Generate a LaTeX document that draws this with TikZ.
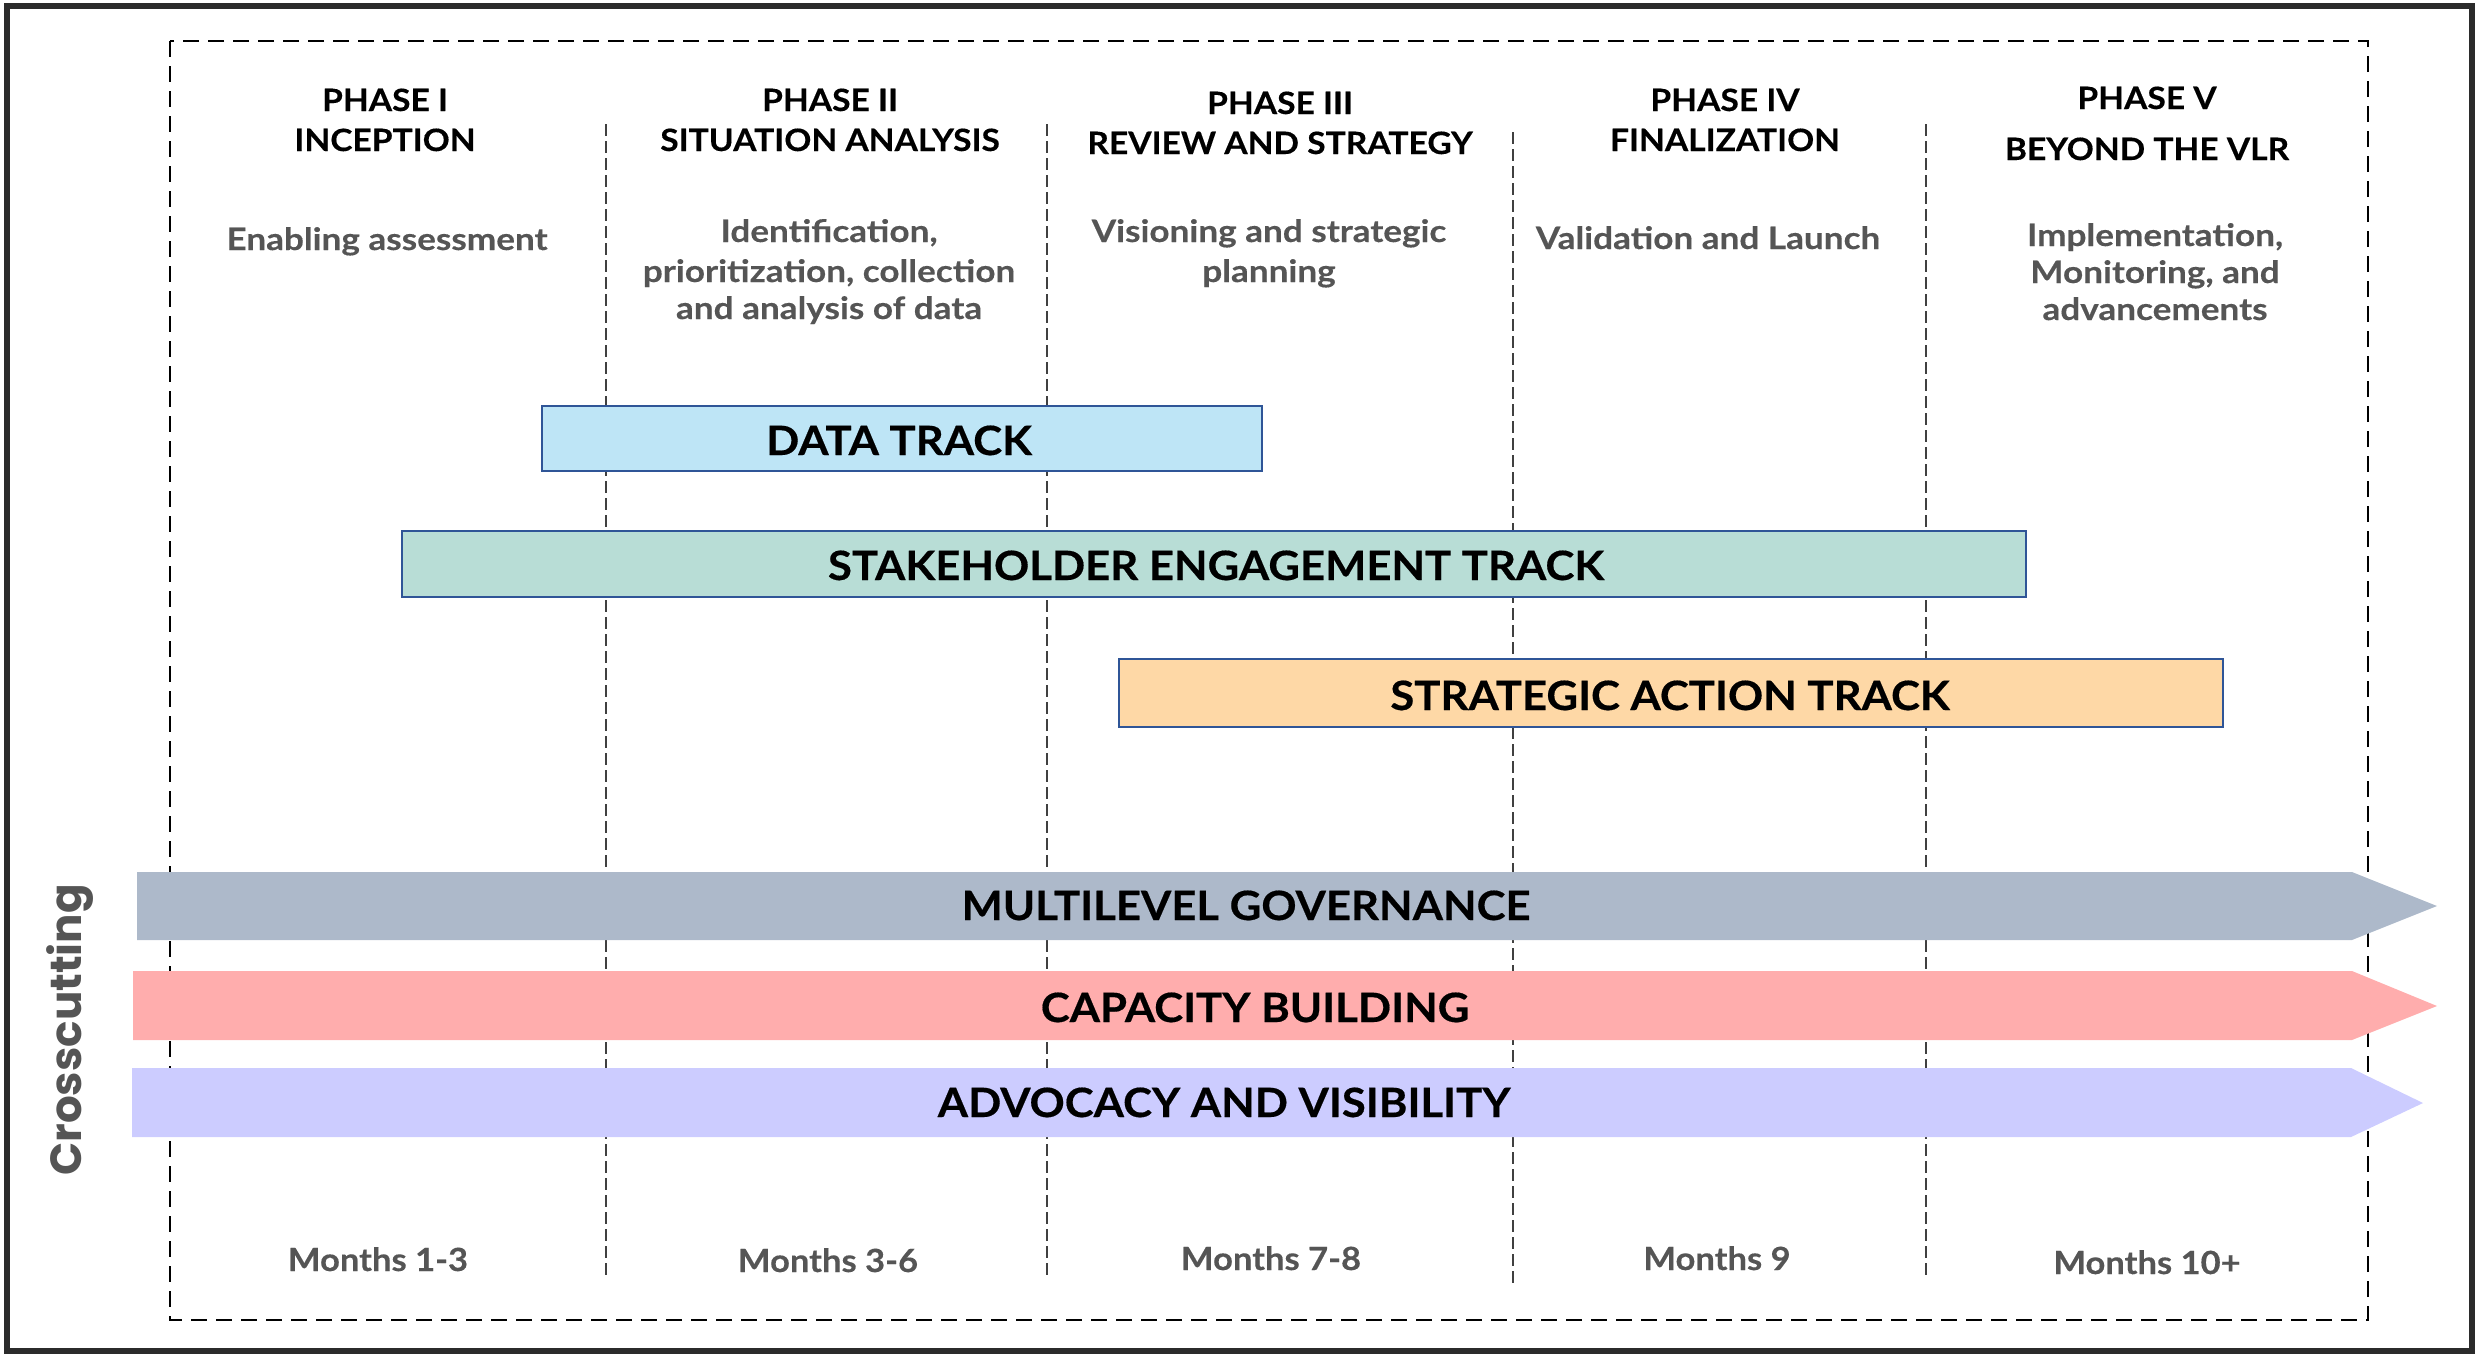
\documentclass[tikz,border=0pt]{standalone}
\usepackage{fontspec}
\setmainfont{Lato}
\newfontfamily\popfont{Poppins}
\newfontfamily\hdrfont{Lato}[FakeStretch=1.09, FakeBold=0.3]
\newfontfamily\descfont{Lato}[FakeStretch=1.14, FakeBold=0.3]
\newfontfamily\barfont{Lato}[FakeStretch=1.08, FakeBold=0.4]
\newfontfamily\monfont{Lato}[FakeStretch=1.08, FakeBold=0.3]
\definecolor{txtgray}{HTML}{555555}
\definecolor{framecol}{HTML}{2B2B2B}
\definecolor{trackline}{HTML}{2F5597}
\definecolor{datafill}{HTML}{BEE5F6}
\definecolor{stakefill}{HTML}{B8DDD6}
\definecolor{stratfill}{HTML}{FED8A6}
\definecolor{mlgfill}{HTML}{ADB9CA}
\definecolor{capfill}{HTML}{FFADAD}
\definecolor{advfill}{HTML}{CCCCFF}
\begin{document}
\begin{tikzpicture}[x=0.5pt,y=-0.5pt,
  hdr/.style={font=\hdrfont\bfseries\fontsize{15.4}{18}\selectfont, text=black, anchor=base, inner sep=0pt},
  desc/.style={font=\descfont\bfseries\fontsize{15.4}{18}\selectfont, text=txtgray, anchor=base, inner sep=0pt},
  month/.style={font=\monfont\bfseries\fontsize{16}{19}\selectfont, text=txtgray, anchor=base, inner sep=0pt},
  barlabel/.style={font=\barfont\bfseries\fontsize{20.2}{24}\selectfont, text=black, anchor=base, inner sep=0pt},
  trackbar/.style={draw=trackline, line width=1.2pt},
  sepline/.style={draw=black!75, line width=0.75pt, dash pattern=on 6pt off 2.5pt},
]
\useasboundingbox (0,0) rectangle (2476,1355);
% outer frame
\draw[framecol, line width=3pt] (7,6) rectangle (2472,1351);
% dashed box
\draw[black, line width=1.3pt, dash pattern=on 8pt off 4.5pt] (170,41) rectangle (2368,1320);
% phase separators
\coordinate (s1t) at (606,124);  \coordinate (s1b) at (606,1275);
\coordinate (s2t) at (1047,124); \coordinate (s2b) at (1047,1275);
\coordinate (s3t) at (1513,132); \coordinate (s3b) at (1513,1284);
\coordinate (s4t) at (1926,124); \coordinate (s4b) at (1926,1275);
\draw[sepline] (s1t) -- (s1b);
\draw[sepline] (s2t) -- (s2b);
\draw[sepline] (s3t) -- (s3b);
\draw[sepline] (s4t) -- (s4b);
% tracks
\draw[trackbar, fill=datafill] (542,406) rectangle (1262,471);
\draw[trackbar, fill=stakefill] (402,531) rectangle (2026,597);
\draw[trackbar, fill=stratfill] (1119,659) rectangle (2223,727);
% crosscutting arrows
\fill[mlgfill] (137,872) -- (2352,872) -- (2437,906) -- (2352,940) -- (137,940) -- cycle;
\fill[capfill] (133,971) -- (2352,971) -- (2437,1006) -- (2352,1040) -- (133,1040) -- cycle;
\fill[advfill] (132,1068) -- (2351,1068) -- (2423,1103) -- (2351,1137) -- (132,1137) -- cycle;
% headers
\node[hdr] (p1a) at (385,111) {PHASE I};
\node[hdr] (p1b) at (385,151) {INCEPTION};
\node[hdr] (p2a) at (830,111) {PHASE II};
\node[hdr] (p2b) at (830,151) {SITUATION ANALYSIS};
\node[hdr] (p3a) at (1280,114) {PHASE III};
\node[hdr] (p3b) at (1280,154) {REVIEW AND STRATEGY};
\node[hdr] (p4a) at (1725,111) {PHASE IV};
\node[hdr] (p4b) at (1725,151) {FINALIZATION};
\node[hdr] (p5a) at (2147,109) {PHASE V};
\node[hdr] (p5b) at (2147,160) {BEYOND THE VLR};
% descriptions
\node[desc] (d1) at (387,250) {Enabling assessment};
\node[desc] (d2a) at (829,242) {Identification,};
\node[desc] (d2b) at (829,282) {prioritization, collection};
\node[desc] (d2c) at (829,319) {and analysis of data};
\node[desc] (d3a) at (1269,242) {Visioning and strategic};
\node[desc] (d3b) at (1269,282) {planning};
\node[desc] (d4) at (1708,249) {Validation and Launch};
\node[desc] (d5a) at (2155,246) {Implementation,};
\node[desc] (d5b) at (2155,283) {Monitoring, and};
\node[desc] (d5c) at (2155,320) {advancements};
% bar labels
\node[barlabel] (datatrack) at (899,455) {DATA TRACK};
\node[barlabel] (staketrack) at (1216,580) {STAKEHOLDER ENGAGEMENT TRACK};
\node[barlabel] (strattrack) at (1670,710) {STRATEGIC ACTION TRACK};
\node[barlabel] (mlg) at (1246,920) {MULTILEVEL GOVERNANCE};
\node[barlabel] (capb) at (1255,1022) {CAPACITY BUILDING};
\node[barlabel] (advv) at (1224,1117) {ADVOCACY AND VISIBILITY};
% months
\node[month] (m1) at (378,1271) {Months 1-3};
\node[month] (m2) at (828,1272) {Months 3-6};
\node[month] (m3) at (1271,1270) {Months 7-8};
\node[month] (m4) at (1717,1270) {Months 9};
\node[month] (m5) at (2147,1274) {Months 10+};
% crosscutting label
\node[rotate=90, font=\popfont\bfseries\fontsize{21.8}{26}\selectfont, text=txtgray, inner sep=0pt] (cross) at (70,1030) {Crosscutting};
\end{tikzpicture}
\end{document}
